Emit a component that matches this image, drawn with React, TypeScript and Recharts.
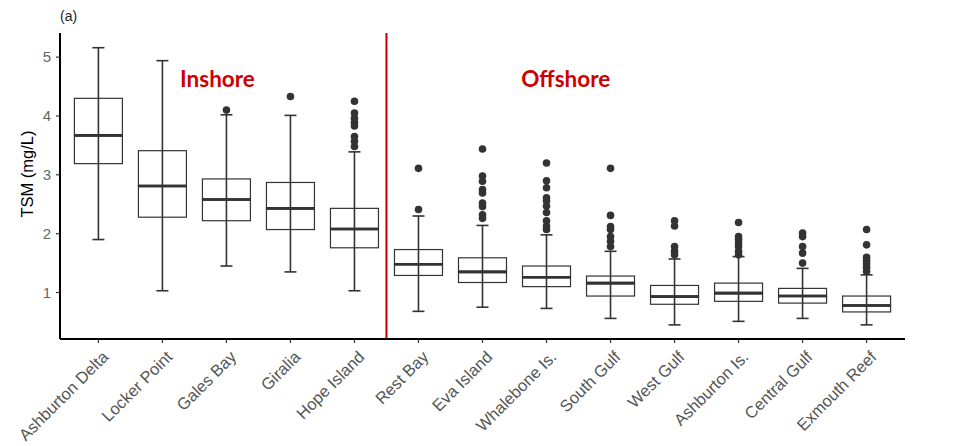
import { ComposedChart, Bar, Scatter, XAxis, YAxis, ReferenceLine, ReferenceDot } from 'recharts';

const sites = ['Ashburton Delta', 'Locker Point', 'Gales Bay', 'Giralia', 'Hope Island', 'Rest Bay', 'Eva Island', 'Whalebone Is.', 'South Gulf', 'West Gulf', 'Ashburton Is.', 'Central Gulf', 'Exmouth Reef'];
const mins = [1.90, 1.03, 1.45, 1.35, 1.03, 0.68, 0.75, 0.73, 0.56, 0.45, 0.51, 0.56, 0.45];
const q1s = [3.19, 2.28, 2.22, 2.07, 1.76, 1.29, 1.17, 1.10, 0.94, 0.80, 0.85, 0.82, 0.67];
const medians = [3.67, 2.81, 2.58, 2.43, 2.08, 1.48, 1.35, 1.26, 1.16, 0.93, 0.99, 0.94, 0.78];
const q3s = [4.30, 3.41, 2.93, 2.87, 2.43, 1.73, 1.59, 1.45, 1.28, 1.12, 1.16, 1.07, 0.94];
const maxs = [5.16, 4.94, 4.02, 4.01, 3.39, 2.30, 2.14, 1.98, 1.70, 1.57, 1.61, 1.41, 1.30];
const outliers = [
  [],
  [],
  [4.10],
  [4.33],
  [4.25, 4.05, 3.96, 3.89, 3.83, 3.65, 3.57, 3.48],
  [3.11, 2.41],
  [3.44, 2.98, 2.89, 2.75, 2.69, 2.52, 2.46, 2.32, 2.26],
  [3.20, 2.90, 2.78, 2.61, 2.56, 2.47, 2.36, 2.22, 2.13, 2.07],
  [3.11, 2.31, 2.12, 2.07, 1.95, 1.87, 1.78],
  [2.22, 2.13, 1.78, 1.70, 1.64],
  [2.19, 1.95, 1.90, 1.84, 1.78, 1.70, 1.64],
  [2.01, 1.95, 1.78, 1.67, 1.50],
  [2.07, 1.81, 1.60, 1.54, 1.49, 1.43, 1.36],
];
const yTicks = [1, 2, 3, 4, 5];

const boxes = sites.map((name, i) => ({
  x: i + 1,
  name,
  base: mins[i],
  lowWhisker: q1s[i] - mins[i],
  lowBox: medians[i] - q1s[i],
  highBox: q3s[i] - medians[i],
  highWhisker: maxs[i] - q3s[i],
}));

const points = outliers.flatMap((vals, i) => vals.map((v) => ({ x: i + 1, y: v })));

const INK = '#333333';
const FONT = 'Liberation Sans, Arial, sans-serif';

const WhiskerLow = (p: any) => {
  const cx = p.x + p.width / 2;
  const bottom = p.y + p.height;
  return (
    <g>
      <line x1={cx} x2={cx} y1={p.y} y2={bottom} stroke={INK} strokeWidth={1.6} />
      <line x1={cx - 6} x2={cx + 6} y1={bottom} y2={bottom} stroke={INK} strokeWidth={1.6} />
    </g>
  );
};

const WhiskerHigh = (p: any) => {
  const cx = p.x + p.width / 2;
  return (
    <g>
      <line x1={cx} x2={cx} y1={p.y} y2={p.y + p.height} stroke={INK} strokeWidth={1.6} />
      <line x1={cx - 6} x2={cx + 6} y1={p.y} y2={p.y} stroke={INK} strokeWidth={1.6} />
    </g>
  );
};

const BoxLow = (p: any) => {
  const cx = p.x + p.width / 2;
  return (
    <g>
      <line x1={cx} x2={cx} y1={p.y} y2={p.y + p.height} stroke={INK} strokeWidth={1.6} />
      <rect x={p.x} y={p.y} width={p.width} height={p.height} fill="none" stroke={INK} strokeWidth={1.2} />
      <line x1={p.x} x2={p.x + p.width} y1={p.y} y2={p.y} stroke={INK} strokeWidth={2.6} />
    </g>
  );
};

const BoxHigh = (p: any) => {
  const cx = p.x + p.width / 2;
  return (
    <g>
      <line x1={cx} x2={cx} y1={p.y} y2={p.y + p.height} stroke={INK} strokeWidth={1.6} />
      <rect x={p.x} y={p.y} width={p.width} height={p.height} fill="none" stroke={INK} strokeWidth={1.2} />
      <line x1={p.x} x2={p.x + p.width} y1={p.y + p.height} y2={p.y + p.height} stroke={INK} strokeWidth={2.6} />
    </g>
  );
};

const Dot = (p: any) => <circle cx={p.cx} cy={p.cy} r={3.8} fill={INK} />;

const XTick = ({ x, y, payload }: any) => (
  <g transform={`translate(${x + 11},${y + 13})`}>
    <text x={0} y={0} textAnchor="end" transform="rotate(-45)" fill="#555" fontSize={16.5} fontFamily={FONT}>
      {sites[payload.value - 1]}
    </text>
  </g>
);

const YTitle = (props: any) => {
  const { viewBox } = props;
  const cy = viewBox.y + viewBox.height / 2 - 12;
  return (
    <text x={33} y={cy} transform={`rotate(-90, 33, ${cy})`} textAnchor="middle" fill="#000" fontSize={16.5} fontFamily={FONT}>
      TSM (mg/L)
    </text>
  );
};

const regionLabel = (text: string) => (props: any) => {
  const { viewBox } = props;
  const cx = viewBox.x + (viewBox.width || 0) / 2;
  const cy = viewBox.y + (viewBox.height || 0) / 2;
  return (
    <text x={cx} y={cy} dy={8} textAnchor="middle" fill="#cc0000" fontSize={22.5} fontWeight="bold" fontFamily="Lato, sans-serif">
      {text}
    </text>
  );
};

export default function App() {
  return (
    <div style={{ position: 'absolute', left: 0, top: 0, width: 966, height: 446, background: '#fff' }}>
      <svg style={{ position: 'absolute', left: 0, top: 0 }} width={100} height={30}>
        <text x={60} y={21} fontSize={14} fill="#222" fontFamily={FONT}>(a)</text>
      </svg>
      <ComposedChart width={966} height={446} data={boxes} margin={{ top: 33, right: 61, bottom: 0, left: 15 }}>
        <XAxis
          dataKey="x"
          type="number"
          domain={[0.4, 13.6]}
          ticks={sites.map((_, i) => i + 1)}
          allowDataOverflow
          interval={0}
          tick={<XTick />}
          tickSize={4}
          axisLine={{ stroke: '#000', strokeWidth: 2 }}
          tickLine={{ stroke: INK, strokeWidth: 1.2 }}
          height={107}
        />
        <YAxis
          type="number"
          domain={[0.21, 5.41]}
          ticks={yTicks}
          allowDataOverflow
          width={45}
          tickSize={4}
          tickMargin={5}
          axisLine={{ stroke: '#000', strokeWidth: 2 }}
          tickLine={{ stroke: INK, strokeWidth: 1.2 }}
          tick={{ fill: '#666', fontSize: 15, fontFamily: FONT }}
          label={<YTitle />}
        />
        <Bar dataKey="base" stackId="b" fill="none" barSize={48} isAnimationActive={false} />
        <Bar dataKey="lowWhisker" stackId="b" barSize={48} shape={WhiskerLow} isAnimationActive={false} />
        <Bar dataKey="lowBox" stackId="b" barSize={48} shape={BoxLow} isAnimationActive={false} />
        <Bar dataKey="highBox" stackId="b" barSize={48} shape={BoxHigh} isAnimationActive={false} />
        <Bar dataKey="highWhisker" stackId="b" barSize={48} shape={WhiskerHigh} isAnimationActive={false} />
        <Scatter data={points} dataKey="y" shape={Dot} isAnimationActive={false} />
        <ReferenceLine x={5.5} stroke="#c00000" strokeWidth={2} />
        <ReferenceDot x={2.86} y={4.63} r={0} fill="none" stroke="none" label={regionLabel('Inshore')} />
        <ReferenceDot x={8.3} y={4.62} r={0} fill="none" stroke="none" label={regionLabel('Offshore')} />
      </ComposedChart>
    </div>
  );
}
